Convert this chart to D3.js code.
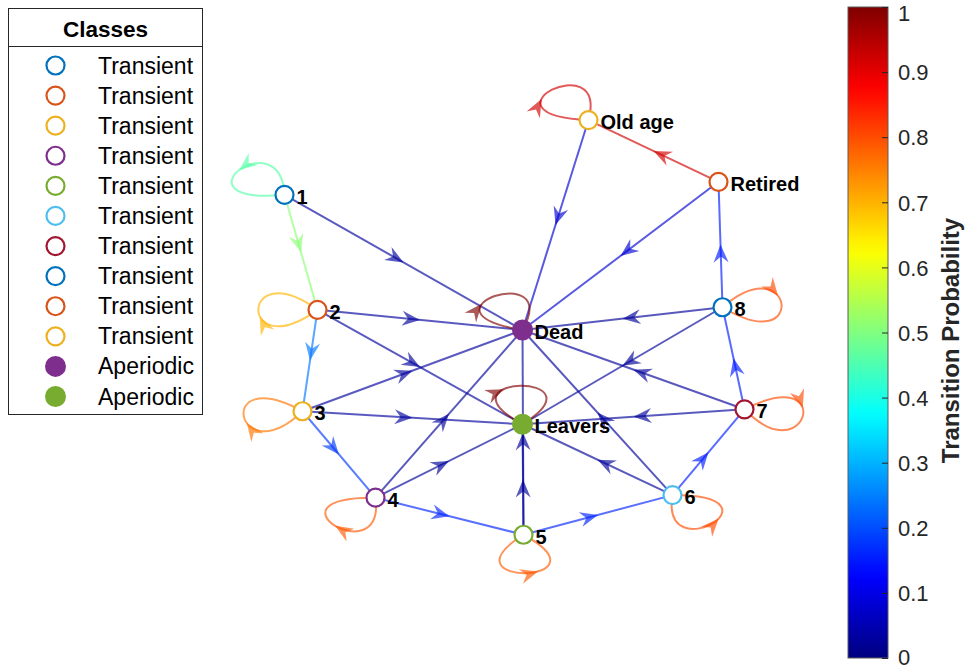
<!DOCTYPE html>
<html>
<head>
<meta charset="utf-8">
<script src="https://cdn.jsdelivr.net/npm/d3@7"></script>
<style>
body { margin: 0; background: #fff; }
text { font-family: "Liberation Sans", Arial, Helvetica, sans-serif; }
</style>
</head>
<body>
<svg width="966" height="670"></svg>
<script>
// graph nodes (layout coordinates) and their classes
var nodeNames = ["1", "2", "3", "4", "5", "6", "7", "8", "Retired", "Old age", "Dead", "Leavers"];
var nodeX = [-2.38, -2.05, -2.20, -1.47, 0.01, 1.50, 2.22, 2.00, 1.96, 0.66, 0.00, 0.00];
var nodeY = [2.08, 0.31, -1.25, -2.58, -3.15, -2.54, -1.22, 0.35, 2.28, 3.23, 0.00, -1.45];
var nodeClass = ["Transient", "Transient", "Transient", "Transient", "Transient", "Transient",
                 "Transient", "Transient", "Transient", "Transient", "Aperiodic", "Aperiodic"];
var classColors = ["#0072BD", "#D95319", "#EDB120", "#7E2F8E", "#77AC30", "#4DBEEE",
                   "#A2142F", "#0072BD", "#D95319", "#EDB120", "#7E2F8E", "#77AC30"];

// transitions
var edgeFrom = ["1", "1", "1",
  "2", "2", "2", "2",
  "3", "3", "3", "3",
  "4", "4", "4", "4",
  "5", "5", "5", "5",
  "6", "6", "6", "6",
  "7", "7", "7", "7",
  "8", "8", "8", "8",
  "Retired", "Retired",
  "Old age", "Old age",
  "Dead", "Leavers"];
var edgeTo = ["1", "2", "Dead",
  "2", "3", "Dead", "Leavers",
  "3", "4", "Dead", "Leavers",
  "4", "5", "Dead", "Leavers",
  "5", "6", "Dead", "Leavers",
  "6", "7", "Dead", "Leavers",
  "7", "8", "Dead", "Leavers",
  "8", "Retired", "Dead", "Leavers",
  "Old age", "Dead",
  "Old age", "Dead",
  "Dead", "Leavers"];
var edgeProb = [0.46, 0.51, 0.03,
  0.70, 0.24, 0.03, 0.03,
  0.76, 0.18, 0.03, 0.03,
  0.79, 0.16, 0.025, 0.025,
  0.79, 0.16, 0.025, 0.025,
  0.80, 0.15, 0.025, 0.025,
  0.80, 0.15, 0.025, 0.025,
  0.80, 0.15, 0.025, 0.025,
  0.92, 0.08,
  0.92, 0.08,
  1.00, 1.00];

var cbTicks = [0, 0.1, 0.2, 0.3, 0.4, 0.5, 0.6, 0.7, 0.8, 0.9, 1];
var cbTickLabels = ["0", "0.1", "0.2", "0.3", "0.4", "0.5", "0.6", "0.7", "0.8", "0.9", "1"];

// self loop drawing: direction (deg), turning (1 = clockwise), arrow position on loop
var loopAngle = {"1": -140, "2": 180, "3": 172, "4": 133, "5": 88, "6": 48, "7": 10, "8": -5,
                 "Old age": -128, "Dead": -118, "Leavers": -92};
var loopTurn = {"1": -1, "2": 1, "3": 1, "4": 1, "5": -1, "6": -1, "7": 1, "8": 1,
                "Old age": 1, "Dead": 1, "Leavers": 1};
var loopArrowT = {"1": 0.5, "2": 0.42, "3": 0.42, "4": 0.5, "5": 0.6, "6": 0.58, "7": 0.4, "8": 0.4,
                  "Old age": 0.36, "Dead": 0.36, "Leavers": 0.36};

var svg = d3.select('svg');

var jet = t => {
	var c = v => Math.round(255 * Math.max(0, Math.min(1, v)));
	return d3.rgb(c(1.5 - Math.abs(4 * t - 3)), c(1.5 - Math.abs(4 * t - 2)), c(1.5 - Math.abs(4 * t - 1))).toString();
};
var color = d3.scaleSequential(jet).domain([0, 1]);

var xscale = d3.scaleLinear().domain([-3, 3]).range([222.5, 822.5]);
var yscale = d3.scaleLinear().domain([-4, 4]).range([590, 70]);
var aspect = 65 / 100;

var nodes = nodeNames.map((n, i) => ({name: n, x: xscale(nodeX[i]), y: yscale(nodeY[i]),
	cls: nodeClass[i], col: classColors[i]}));
var byName = {};
nodes.forEach(n => byName[n.name] = n);

var edges = edgeFrom.map((s, i) => ({s: byName[s], t: byName[edgeTo[i]], p: edgeProb[i]}));

var edgeAlpha = 0.65;
var arrowPath = 'M0,0 L-18,-7.5 L-12,0 L-18,7.5 Z';

var gEdges = svg.append('g');

edges.forEach(e => {
	var c = color(e.p);
	if (e.s === e.t) {
		var n = e.s, th = loopAngle[n.name] * Math.PI / 180, turn = loopTurn[n.name];
		var d = 118, a = 48 * Math.PI / 180;
		var p0 = [n.x, n.y];
		var p1 = [n.x + d * Math.cos(th - turn * a), n.y + d * aspect * Math.sin(th - turn * a)];
		var p2 = [n.x + d * Math.cos(th + turn * a), n.y + d * aspect * Math.sin(th + turn * a)];
		gEdges.append('path')
			.attr('d', `M${p0} C${p1} ${p2} ${p0}`)
			.attr('fill', 'none').attr('stroke', c)
			.attr('stroke-opacity', edgeAlpha).attr('stroke-width', 2);
		var t = loopArrowT[n.name], u = 1 - t;
		var bx = u * u * u * p0[0] + 3 * u * u * t * p1[0] + 3 * u * t * t * p2[0] + t * t * t * p0[0];
		var by = u * u * u * p0[1] + 3 * u * u * t * p1[1] + 3 * u * t * t * p2[1] + t * t * t * p0[1];
		var dx = 3 * u * u * (p1[0] - p0[0]) + 6 * u * t * (p2[0] - p1[0]) + 3 * t * t * (p0[0] - p2[0]);
		var dy = 3 * u * u * (p1[1] - p0[1]) + 6 * u * t * (p2[1] - p1[1]) + 3 * t * t * (p0[1] - p2[1]);
		gEdges.append('path')
			.attr('d', arrowPath)
			.attr('transform', `translate(${bx},${by}) rotate(${Math.atan2(dy, dx) * 180 / Math.PI})`)
			.attr('fill', c).attr('fill-opacity', edgeAlpha);
	} else {
		gEdges.append('line')
			.attr('x1', e.s.x).attr('y1', e.s.y)
			.attr('x2', e.t.x).attr('y2', e.t.y)
			.attr('stroke', c).attr('stroke-opacity', edgeAlpha).attr('stroke-width', 2);
		var mx = (e.s.x + e.t.x) / 2, my = (e.s.y + e.t.y) / 2;
		var ang = Math.atan2(e.t.y - e.s.y, e.t.x - e.s.x) * 180 / Math.PI;
		gEdges.append('path')
			.attr('d', arrowPath)
			.attr('transform', `translate(${mx},${my}) rotate(${ang})`)
			.attr('fill', c).attr('fill-opacity', edgeAlpha);
	}
});

// nodes
var gNodes = svg.append('g');
gNodes.selectAll('circle').data(nodes).enter()
	.append('circle')
	.attr('cx', d => d.x).attr('cy', d => d.y)
	.attr('r', d => d.cls === 'Aperiodic' ? 10.5 : 9)
	.attr('fill', d => d.cls === 'Aperiodic' ? d.col : '#fff')
	.attr('stroke', d => d.col)
	.attr('stroke-width', d => d.cls === 'Aperiodic' ? 0 : 2.2);

gNodes.selectAll('text').data(nodes).enter()
	.append('text')
	.attr('x', d => d.x + 12).attr('y', d => d.y + 9)
	.attr('font-size', 20).attr('font-weight', 'bold')
	.attr('fill', '#000')
	.text(d => d.name);

// legend
var lg = svg.append('g');
lg.append('rect').attr('x', 8.5).attr('y', 8.5).attr('width', 194).attr('height', 406)
	.attr('fill', '#fff').attr('stroke', '#262626').attr('stroke-width', 1);
lg.append('line').attr('x1', 8.5).attr('x2', 202.5).attr('y1', 46.5).attr('y2', 46.5)
	.attr('stroke', '#262626');
lg.append('text').attr('x', 105.5).attr('y', 37).attr('text-anchor', 'middle')
	.attr('font-size', 22.5).attr('font-weight', 'bold').text('Classes');
var ly = d3.scaleLinear().domain([0, 11]).range([65.5, 396.5]);
nodes.forEach((n, i) => {
	lg.append('circle').attr('cx', 55.5).attr('cy', ly(i))
		.attr('r', n.cls === 'Aperiodic' ? 10.5 : 9)
		.attr('fill', n.cls === 'Aperiodic' ? n.col : 'none')
		.attr('stroke', n.col).attr('stroke-width', n.cls === 'Aperiodic' ? 0 : 2.2);
	lg.append('text').attr('x', 98).attr('y', ly(i) + 8)
		.attr('font-size', 23).attr('fill', '#000').text(n.cls);
});

// colorbar
var cbX = 848, cbW = 40;
var cby = d3.scaleLinear().domain([0, 1]).range([658, 7]);
var grad = svg.append('defs').append('linearGradient').attr('id', 'jetgrad')
	.attr('x1', 0).attr('y1', 1).attr('x2', 0).attr('y2', 0);
d3.range(0, 1.0001, 0.02).forEach(v => {
	grad.append('stop').attr('offset', v).attr('stop-color', color(v));
});
svg.append('rect').attr('x', cbX).attr('y', cby(1)).attr('width', cbW).attr('height', cby(0) - cby(1))
	.attr('fill', 'url(#jetgrad)').attr('stroke', '#5a5a5a').attr('stroke-width', 1);

var cbAxis = svg.append('g').attr('transform', `translate(${cbX + cbW},0)`)
	.call(d3.axisRight(cby).tickValues(cbTicks).tickSize(-6).tickPadding(10)
		.tickFormat((d, i) => cbTickLabels[i]));
cbAxis.select('.domain').remove();
cbAxis.selectAll('line').attr('stroke', '#262626');
cbAxis.selectAll('text').attr('font-size', 22).attr('fill', '#262626').attr('dy', '0.35em')
	.attr('font-family', '"Liberation Sans", Arial, sans-serif');
// keep the end labels inside the picture
cbAxis.selectAll('.tick').filter(d => d === 1).select('text').attr('y', 6);
cbAxis.selectAll('.tick').filter(d => d === 0).select('text').attr('y', -1.5);

svg.append('text')
	.attr('transform', `translate(959,${(cby(0) + cby(1)) / 2 + 8}) rotate(-90)`)
	.attr('text-anchor', 'middle')
	.attr('font-size', 24).attr('font-weight', 'bold').attr('fill', '#262626')
	.text('Transition Probability');
</script>
</body>
</html>
